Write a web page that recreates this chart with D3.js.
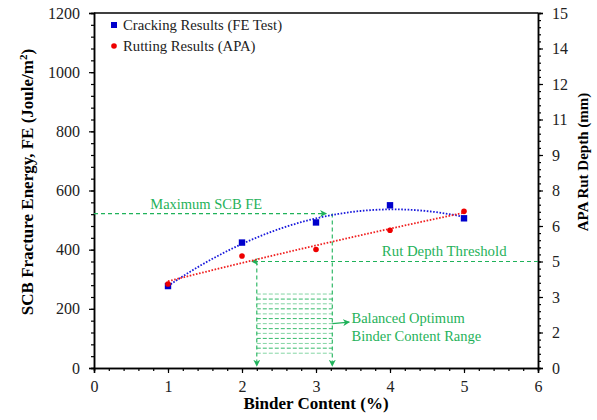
<!DOCTYPE html>
<html>
<head>
<meta charset="utf-8">
<script src="https://cdn.jsdelivr.net/npm/d3@7"></script>
</head>
<body style="margin:0">
<div id="chart"></div>
<script>
// binder content (%)
var binder = [1, 2, 3, 4, 5];
// SCB fracture energy (Joule/m2)
var fracture = [277, 424, 492, 550, 506];
// APA rut depth (mm)
var rutDepth = [3.55, 4.73, 5.01, 5.82, 6.62];

var xTicks = [0, 1, 2, 3, 4, 5, 6];
var leftTicks = [0, 200, 400, 600, 800, 1000, 1200];
var rightTicks = [0, 1.5, 3, 4.5, 6, 7.5, 9, 10.5, 12, 13.5, 15];
var rightLabels = ["0", "2", "3", "5", "6", "8", "9", "11", "12", "14", "15"];

// annotation values
var maxFE = 522;
var rutThreshold = 4.5;
var optRange = [2.2, 3.22];
var hatchLevels = [50, 67, 83, 100, 117, 133, 150, 167, 183, 200, 217, 233, 250];

var W = 597, H = 420;
var green = "#1fb25a";
var serif = "'Liberation Serif', serif";

var svg = d3.select("#chart").append("svg")
    .attr("width", W)
    .attr("height", H);

var x = d3.scaleLinear().domain([0, 6]).range([94, 538]);
var yL = d3.scaleLinear().domain([0, 1200]).range([368, 13]);
var yR = d3.scaleLinear().domain([0, 15]).range([368, 13]);

// arrow marker
var defs = svg.append("defs");
defs.append("marker")
    .attr("id", "arr")
    .attr("viewBox", "0 0 10 10")
    .attr("refX", 9).attr("refY", 5)
    .attr("markerWidth", 7).attr("markerHeight", 7)
    .attr("markerUnits", "userSpaceOnUse")
    .attr("orient", "auto")
    .append("path")
    .attr("d", "M0,0 L10,5 L0,10 L3,5 Z")
    .attr("fill", green);

// quadratic least squares fit (trendline)
function quadFit(xs, ys) {
    var n = xs.length, s = [0, 0, 0, 0, 0], t = [0, 0, 0];
    for (var i = 0; i < n; i++) {
        for (var k = 0; k < 5; k++) s[k] += Math.pow(xs[i], k);
        for (var k = 0; k < 3; k++) t[k] += ys[i] * Math.pow(xs[i], k);
    }
    var A = [[s[0], s[1], s[2], t[0]], [s[1], s[2], s[3], t[1]], [s[2], s[3], s[4], t[2]]];
    for (var c = 0; c < 3; c++) {
        for (var r = c + 1; r < 3; r++) {
            var f = A[r][c] / A[c][c];
            for (var k = c; k < 4; k++) A[r][k] -= f * A[c][k];
        }
    }
    var b = [0, 0, 0];
    for (var r = 2; r >= 0; r--) {
        var v = A[r][3];
        for (var k = r + 1; k < 3; k++) v -= A[r][k] * b[k];
        b[r] = v / A[r][r];
    }
    return function(xv) { return b[0] + b[1] * xv + b[2] * xv * xv; };
}

// --- axes ---
svg.append("g").attr("transform", "translate(0,368)")
    .call(d3.axisBottom(x).tickValues(xTicks).tickSize(5).tickPadding(8).tickFormat(d3.format("d")));
svg.append("g").attr("transform", "translate(0,368)")
    .call(d3.axisBottom(x).tickValues(d3.range(0, 6.01, 0.2)).tickSize(3).tickFormat(""));

svg.append("g").attr("transform", "translate(94,0)")
    .call(d3.axisLeft(yL).tickValues(leftTicks).tickSize(5).tickPadding(9).tickFormat(d3.format("d")));
svg.append("g").attr("transform", "translate(94,0)")
    .call(d3.axisLeft(yL).tickValues(d3.range(0, 1201, 40)).tickSize(3).tickFormat(""));

svg.append("g").attr("transform", "translate(538,0)")
    .call(d3.axisRight(yR).tickValues(rightTicks).tickSize(5).tickPadding(9)
        .tickFormat(function(d, i) { return rightLabels[i]; }));
svg.append("g").attr("transform", "translate(538,0)")
    .call(d3.axisRight(yR).tickValues(d3.range(0, 15.01, 0.3)).tickSize(3).tickFormat(""));

svg.selectAll(".domain").attr("stroke", "#000").attr("stroke-width", 1.5);
svg.selectAll(".tick line").attr("stroke", "#000").attr("stroke-width", 1.2);
svg.selectAll(".tick text").attr("font-size", 16).attr("fill", "#222");

// top border
svg.append("line")
    .attr("x1", x(0)).attr("x2", x(6))
    .attr("y1", yL(1200)).attr("y2", yL(1200))
    .attr("stroke", "#000").attr("stroke-width", 1.5);

// axis titles
svg.append("text")
    .attr("x", x(3)).attr("y", 409)
    .attr("text-anchor", "middle")
    .attr("font-weight", "bold").attr("font-size", 17)
    .text("Binder Content (%)");

var lt = svg.append("text")
    .attr("transform", "translate(33,182) rotate(-90)")
    .attr("text-anchor", "middle")
    .attr("font-weight", "bold").attr("font-size", 17);
lt.append("tspan").text("SCB Fracture Energy, FE (Joule/m");
lt.append("tspan").attr("baseline-shift", "super").attr("font-size", 11).text("2");
lt.append("tspan").text(")");

svg.append("text")
    .attr("transform", "translate(588,162) rotate(-90)")
    .attr("text-anchor", "middle")
    .attr("font-weight", "bold").attr("font-size", 15)
    .text("APA Rut Depth (mm)");

// --- annotations ---
function dashed(x1, y1, x2, y2, arrow, dash) {
    var l = svg.append("line")
        .attr("x1", x1).attr("y1", y1).attr("x2", x2).attr("y2", y2)
        .attr("stroke", green).attr("stroke-width", 1.1)
        .attr("stroke-dasharray", dash || "4,3");
    if (arrow) l.attr("marker-end", "url(#arr)");
    return l;
}

// maximum SCB FE
dashed(x(0), yL(maxFE), x(optRange[1]) - 6, yL(maxFE), true);
dashed(x(optRange[1]), yL(maxFE), x(optRange[1]), yL(0) - 2, true);
// rut threshold
dashed(x(6), yR(rutThreshold), x(optRange[0]) - 5, yR(rutThreshold), true);
dashed(x(optRange[0]), yR(rutThreshold), x(optRange[0]), yL(0) - 2, true);
// hatch
svg.append("g").selectAll("line").data(hatchLevels).join("line")
    .attr("x1", x(optRange[0])).attr("x2", x(optRange[1]))
    .attr("y1", function(d) { return yL(d); })
    .attr("y2", function(d) { return yL(d); })
    .attr("stroke", green).attr("stroke-width", 1)
    .attr("stroke-opacity", function(d, i) { return i % 2 ? 0.9 : 0.55; })
    .attr("stroke-dasharray", "4,2");
// range pointer
dashed(x(optRange[1]), yL(150), x(optRange[1]) + 17, yL(155), true, "none");

svg.append("text")
    .attr("x", x(0.76)).attr("y", 209)
    .attr("fill", green).attr("font-size", 14.5)
    .text("Maximum SCB FE");
svg.append("text")
    .attr("x", x(3.89)).attr("y", 256)
    .attr("fill", green).attr("font-size", 14.8)
    .text("Rut Depth Threshold");
svg.append("text")
    .attr("x", x(3.48)).attr("y", 323)
    .attr("fill", green).attr("font-size", 14.5)
    .text("Balanced Optimum");
svg.append("text")
    .attr("x", x(3.48)).attr("y", 341)
    .attr("fill", green).attr("font-size", 14.5)
    .text("Binder Content Range");

// --- trend lines ---
var fitFE = quadFit(binder, fracture);
var fitRut = quadFit(binder, rutDepth);
var xs = d3.range(binder[0], binder[binder.length - 1] + 0.001, 0.05);

svg.append("path")
    .datum(xs)
    .attr("fill", "none")
    .attr("stroke", "#1a1adc").attr("stroke-width", 1.8)
    .attr("stroke-dasharray", "1.6,1.6")
    .attr("d", d3.line().x(function(d) { return x(d); }).y(function(d) { return yL(fitFE(d)); }));

svg.append("path")
    .datum(xs)
    .attr("fill", "none")
    .attr("stroke", "#f02020").attr("stroke-width", 1.8)
    .attr("stroke-dasharray", "1.6,1.6")
    .attr("d", d3.line().x(function(d) { return x(d); }).y(function(d) { return yR(fitRut(d)); }));

// --- points ---
svg.append("g").selectAll("rect").data(binder).join("rect")
    .attr("x", function(d) { return x(d) - 3.2; })
    .attr("y", function(d, i) { return yL(fracture[i]) - 3.2; })
    .attr("width", 6.4).attr("height", 6.4)
    .attr("fill", "#0000cc");

svg.append("g").selectAll("circle").data(binder).join("circle")
    .attr("cx", function(d) { return x(d); })
    .attr("cy", function(d, i) { return yR(rutDepth[i]); })
    .attr("r", 2.8)
    .attr("fill", "#ee0000");

// --- legend ---
var legend = svg.append("g");
legend.append("rect").attr("x", 111).attr("y", 22).attr("width", 6).attr("height", 6).attr("fill", "#0000cc");
legend.append("text").attr("x", 123).attr("y", 30).attr("font-size", 14.7).attr("fill", "#222")
    .text("Cracking Results (FE Test)");
legend.append("circle").attr("cx", 114).attr("cy", 46).attr("r", 2.8).attr("fill", "#ee0000");
legend.append("text").attr("x", 123).attr("y", 51).attr("font-size", 14.7).attr("fill", "#222")
    .text("Rutting Results (APA)");

// all text in Times-like serif
svg.selectAll("text").style("font-family", serif);
</script>
</body>
</html>
